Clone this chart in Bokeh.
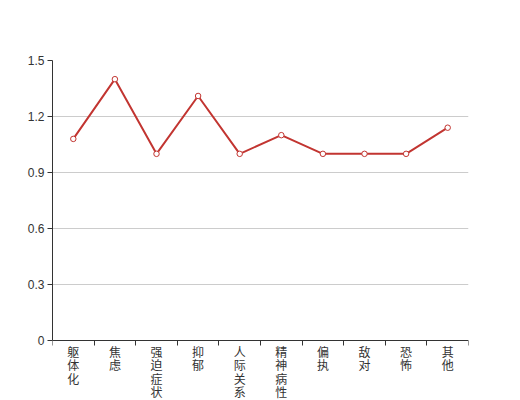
from bokeh.plotting import figure
from bokeh.models import Range1d, FixedTicker
from bokeh.core.properties import value
from bokeh.embed import file_html
from bokeh.resources import INLINE

categories = ["躯体化", "焦虑", "强迫症状", "抑郁", "人际关系敏感", "精神病性", "偏执", "敌对", "恐怖", "其他"]
values = [1.08, 1.40, 1.00, 1.31, 1.00, 1.10, 1.00, 1.00, 1.00, 1.14]
y_ticks = [0, 0.3, 0.6, 0.9, 1.2, 1.5]
y_labels = ["0", "0.3", "0.6", "0.9", "1.2", "1.5"]

n = len(categories)
xs = [i + 0.5 for i in range(n)]

W, H = 520, 400
LEFT = RIGHT = 52
TOP = 60
PLOT_H = 280           # pixel height of the 0..1.5 value band
ymax = y_ticks[-1]
ymin = -(H - TOP - PLOT_H) / PLOT_H * ymax   # extend frame down to the canvas edge

p = figure(width=W, height=H, output_backend="svg", toolbar_location=None,
           x_axis_location="above",
           x_range=Range1d(0, n), y_range=Range1d(ymin, ymax),
           min_border_left=LEFT, min_border_right=RIGHT, min_border_top=TOP, min_border_bottom=0)
p.outline_line_color = None
p.background_fill_color = "white"

COLOR = "#c23531"
p.line(xs, values, line_color=COLOR, line_width=2)
p.scatter(xs, values, size=5.5, fill_color="white", line_color=COLOR, line_width=1)

# y axis
p.yaxis.ticker = FixedTicker(ticks=y_ticks)
p.yaxis.bounds = (0, ymax)
p.yaxis.major_label_overrides = {t: l for t, l in zip(y_ticks, y_labels)}
p.yaxis.axis_line_color = "#333333"
p.yaxis.major_tick_line_color = "#333333"
p.yaxis.major_tick_out = 5
p.yaxis.major_tick_in = 0
p.yaxis.minor_tick_line_color = None
p.yaxis.major_label_standoff = 3
p.yaxis.major_label_text_font = "Liberation Sans"
p.yaxis.major_label_text_font_size = "12px"
p.yaxis.major_label_text_color = "#333333"

# x axis drawn at y=0 (panel kept in the top border): boundary ticks pointing down
p.xaxis.fixed_location = 0
p.xaxis.ticker = FixedTicker(ticks=[], minor_ticks=list(range(n + 1)))
p.xaxis.axis_line_color = "#333333"
p.xaxis.minor_tick_line_color = "#333333"
p.xaxis.minor_tick_out = 0
p.xaxis.minor_tick_in = 5
p.xaxis.major_tick_line_color = None
p.xaxis.major_label_standoff = 0

p.xgrid.grid_line_color = None
p.ygrid.ticker = FixedTicker(ticks=y_ticks[1:])
p.ygrid.grid_line_color = "#cccccc"

# category labels under the axis
p.text(xs, [0] * n, text=["\n".join(c) for c in categories], y_offset=2,
       text_align="center", text_baseline="top",
       text_font=value("Noto Sans CJK SC"), text_font_size="12px",
       text_color="#333333", text_line_height=0.8)

open("out.html", "w").write(file_html(p, INLINE))
